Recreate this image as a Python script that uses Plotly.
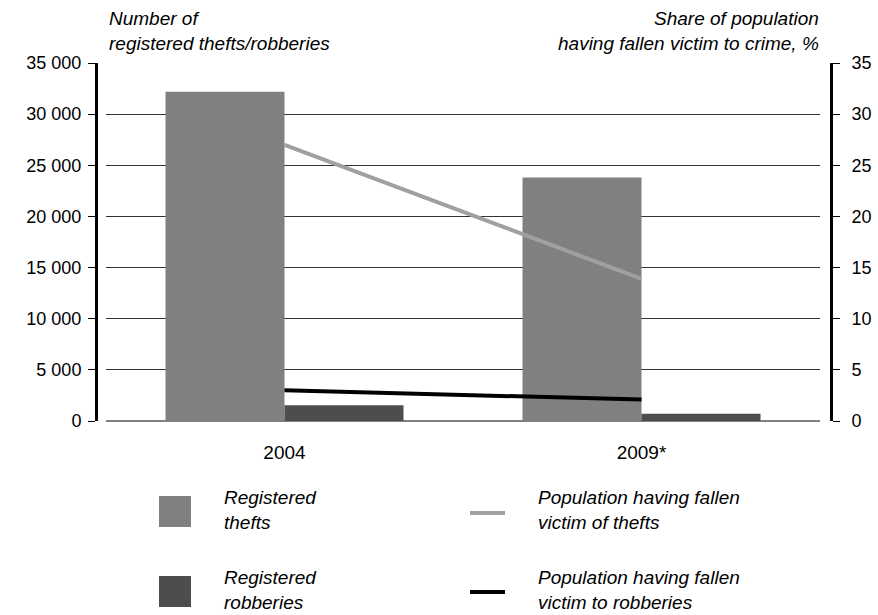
import plotly.graph_objects as go

# ---- data ----
years = ["2004", "2009*"]
registered_thefts = [32200, 23800]
registered_robberies = [1550, 700]
victims_thefts_pct = [27.0, 13.9]
victims_robberies_pct = [3.0, 2.1]

left_title = "Number of<br>registered thefts/robberies"
right_title = "Share of population<br>having fallen victim to crime, %"
legend_labels = {
    "thefts": "Registered<br>thefts",
    "robberies": "Registered<br>robberies",
    "v_thefts": "Population having fallen<br>victim of thefts",
    "v_robberies": "Population having fallen<br>victim to robberies",
}

# ---- styles ----
W, H = 878, 615
TOP, BOTTOM = 63, 421
FONT = "Liberation Sans, Arial, sans-serif"
C_THEFT = "#808080"
C_ROB = "#4d4d4d"
C_VTHEFT = "#a0a0a0"
C_VROB = "#000000"


def px(x):
    return x / W


def py(y):
    return (BOTTOM - y) / (BOTTOM - TOP)


fig = go.Figure()
fig.add_trace(go.Bar(x=years, y=registered_thefts, marker=dict(color=C_THEFT, line=dict(width=0)),
                     name="Registered thefts", yaxis="y"))
fig.add_trace(go.Bar(x=years, y=registered_robberies, marker=dict(color=C_ROB, line=dict(width=0)),
                     name="Registered robberies", yaxis="y"))
fig.add_trace(go.Scatter(x=years, y=victims_thefts_pct, mode="lines",
                         line=dict(color=C_VTHEFT, width=4), yaxis="y2"))
fig.add_trace(go.Scatter(x=years, y=victims_robberies_pct, mode="lines",
                         line=dict(color=C_VROB, width=4), yaxis="y2"))

shapes = []
annotations = []

# titles
annotations.append(dict(x=px(107), y=py(31), xref="paper", yref="paper", text=left_title,
                        showarrow=False, xanchor="left", yanchor="middle", align="left",
                        font=dict(family=FONT, size=19, style="italic", color="#000")))
annotations.append(dict(x=px(821), y=py(31), xref="paper", yref="paper", text=right_title,
                        showarrow=False, xanchor="right", yanchor="middle", align="right",
                        font=dict(family=FONT, size=19, style="italic", color="#000")))


# legend
def rect(x0, y0, x1, y1, color):
    shapes.append(dict(type="rect", xref="paper", yref="paper", x0=px(x0), x1=px(x1),
                       y0=py(y1), y1=py(y0), fillcolor=color, line=dict(width=0)))


def hline(x0, x1, y, color):
    shapes.append(dict(type="line", xref="paper", yref="paper", x0=px(x0), x1=px(x1),
                       y0=py(y), y1=py(y), line=dict(color=color, width=4)))


def label(x, y, text):
    annotations.append(dict(x=px(x), y=py(y), xref="paper", yref="paper", text=text,
                            showarrow=False, xanchor="left", yanchor="middle", align="left",
                            font=dict(family=FONT, size=19, style="italic", color="#000")))


rect(159, 496, 191, 527, C_THEFT)
rect(159, 576, 191, 607, C_ROB)
hline(470, 505, 513, C_VTHEFT)
hline(470, 505, 592, C_VROB)
label(222, 510, legend_labels["thefts"])
label(222, 590, legend_labels["robberies"])
label(536, 510, legend_labels["v_thefts"])
label(536, 590, legend_labels["v_robberies"])

fig.update_layout(
    width=W, height=H,
    margin=dict(l=0, r=0, t=TOP, b=H - BOTTOM, autoexpand=False),
    paper_bgcolor="white", plot_bgcolor="white",
    showlegend=False,
    barmode="group", bargap=1 / 3, bargroupgap=0,
    separators=". ",
    font=dict(family=FONT, size=18, color="#000"),
    xaxis=dict(domain=[px(106), px(820)], showline=False, ticks="", showgrid=False,
               tickfont=dict(size=19), ticklabelstandoff=18),
    yaxis=dict(range=[0, 35000], dtick=5000, tickformat=",d", anchor="free", position=px(96),
               showline=True, linecolor="#000", linewidth=3, ticks="outside", ticklen=7,
               tickcolor="#000", tickwidth=1, showgrid=True, gridcolor="#333333", gridwidth=1,
               zeroline=True, zerolinecolor="#808080", zerolinewidth=1.5,
               tickfont=dict(size=18), ticklabelstandoff=3),
    yaxis2=dict(range=[0, 35], dtick=5, overlaying="y", side="right", anchor="free",
                position=px(831), showline=True, linecolor="#000", linewidth=3,
                ticks="outside", ticklen=7, tickcolor="#000", tickwidth=1,
                showgrid=False, zeroline=False, tickfont=dict(size=18), ticklabelstandoff=8),
    shapes=shapes,
    annotations=annotations,
)

fig.write_html(
    "out.html",
    config={"displayModeBar": False},
    post_script="document.body.style.margin='0';document.body.style.overflow='hidden';",
)
